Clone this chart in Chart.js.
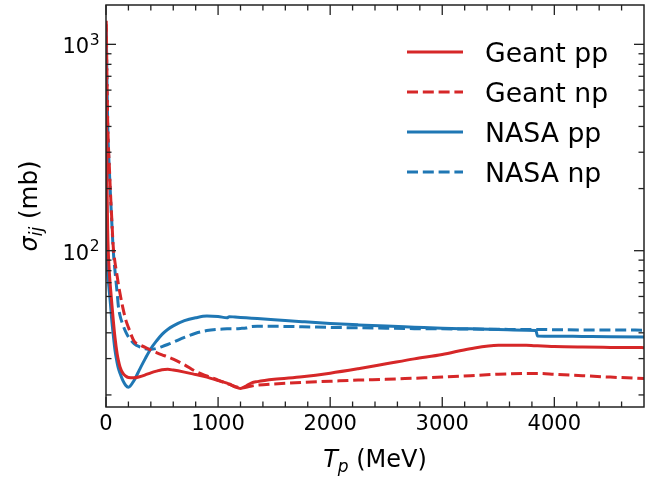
<!DOCTYPE html>
<html>
<head>
<meta charset="utf-8">
<script src="https://cdn.jsdelivr.net/npm/chart.js@4/dist/chart.umd.min.js"></script>
<style>
  html, body { margin: 0; padding: 0; background: #fff; }
  #wrap { width: 662px; height: 480px; }
</style>
</head>
<body>
<div id="wrap"><canvas id="chart1" width="662" height="480"></canvas></div>
<script>
// Data (T_p in MeV, cross sections in mb)
const energies = [2, 5, 10, 15, 20, 30, 40, 50, 65, 80, 100, 110, 125, 150, 175, 200, 250, 300, 350, 400, 450,
  500, 550, 600, 700, 800, 900, 1000, 1080, 1100, 1150, 1200, 1250, 1300, 1350, 1500, 1750, 2000, 2250,
  2500, 2750, 3000, 3250, 3500, 3750, 3835, 3850, 4000, 4250, 4500, 4800]

const geantPP = [1250, 450, 190, 125, 100, 78, 66, 57, 46, 38, 31.5, 29.5, 27.3, 25.5, 24.7, 24.3, 24.2, 24.5, 25.0, 25.6, 26.1,
  26.5, 26.6, 26.4, 25.8, 25.1, 24.4, 23.5, 22.8, 22.6, 21.9, 21.5, 22.1, 22.9, 23.2, 23.8, 24.5, 25.5, 26.8,
  28.3, 29.9, 31.4, 33.5, 34.8, 34.8, 34.6, 34.6, 34.3, 34.1, 34.0, 33.9]

const geantNP = [1300, 1000, 620, 430, 340, 255, 190, 148, 104, 88, 75, 69, 62, 53, 46.5, 42.5, 36.5, 35.0, 34.0, 33.0, 32.1,
  31.3, 30.6, 29.8, 28.0, 26.0, 24.7, 23.6, 22.7, 22.5, 22.0, 21.6, 21.8, 22.1, 22.3, 22.6, 23.0, 23.3, 23.6,
  23.8, 24.1, 24.4, 24.8, 25.2, 25.4, 25.4, 25.4, 25.2, 24.8, 24.4, 24.0]

const nasaPP = [1100, 140, 88, 78, 72, 63, 55, 47, 39, 33, 28.5, 27.0, 25.5, 23.5, 22.3, 21.8, 23.5, 26.6, 30.0, 33.5, 36.5,
  39.3, 41.5, 43.2, 45.8, 47.3, 48.2, 48.0, 47.3, 47.9, 47.7, 47.5, 47.3, 47.1, 46.9, 46.3, 45.3, 44.4, 43.7,
  43.1, 42.6, 42.1, 41.8, 41.5, 41.2, 41.1, 38.6, 38.5, 38.4, 38.3, 38.2]

const nasaNP = [1200, 950, 600, 420, 330, 245, 185, 143, 100, 80, 62, 54, 48.5, 43.8, 40.5, 38.2, 35.5, 34.2, 33.5, 33.3, 33.6,
  34.3, 35.1, 36.0, 38.0, 39.8, 41.0, 41.6, 41.8, 41.9, 41.9, 42.0, 42.2, 42.9, 43.0, 43.0, 42.8, 42.5, 42.3,
  42.1, 41.9, 41.8, 41.7, 41.6, 41.5, 41.5, 41.5, 41.4, 41.3, 41.3, 41.2]

const seriesNames = ['Geant pp', 'Geant np', 'NASA pp', 'NASA np']

// ticks
const xMajorTicks = [0, 1000, 2000, 3000, 4000]
const xMinorTicks = [200, 400, 600, 800, 1200, 1400, 1600, 1800, 2200, 2400, 2600, 2800,
  3200, 3400, 3600, 3800, 4200, 4400, 4600]
const yMajorTicks = [100, 1000]
const yTickExponents = ['2', '3']
const yMinorTicks = [20, 30, 40, 50, 60, 70, 80, 90, 200, 300, 400, 500, 600, 700, 800, 900]

const RED = '#d62728'
const BLUE = '#1f77b4'
const FONT = "'DejaVu Sans', sans-serif"

const zip = (a, b) => a.map((k, i) => ({x: k, y: b[i]}))

const line_style = (label, values, color, dashed) => ({
    label: label,
    data: zip(energies, values),
    borderColor: color,
    borderWidth: 3,
    borderDash: dashed ? [11, 4.8] : [],
    pointRadius: 0,
    fill: false,
    cubicInterpolationMode: 'monotone'
})

// frame + inward ticks on all four sides, y labels as 10^n
const frame_ticks = {
    id: 'frame_ticks',
    afterDatasetsDraw(chart) {
        const {ctx, chartArea: a, scales: {x, y}} = chart
        ctx.save()
        ctx.strokeStyle = '#222'
        ctx.lineWidth = 1.3
        const tick = (x0, y0, x1, y1) => { ctx.beginPath(); ctx.moveTo(x0, y0); ctx.lineTo(x1, y1); ctx.stroke() }
        xMajorTicks.forEach(v => { const p = x.getPixelForValue(v); tick(p, a.bottom, p, a.bottom - 10); tick(p, a.top, p, a.top + 10) })
        xMinorTicks.forEach(v => { const p = x.getPixelForValue(v); tick(p, a.bottom, p, a.bottom - 5.5); tick(p, a.top, p, a.top + 5.5) })
        yMajorTicks.forEach(v => { const p = y.getPixelForValue(v); tick(a.left, p, a.left + 10, p); tick(a.right, p, a.right - 10, p) })
        yMinorTicks.forEach(v => { const p = y.getPixelForValue(v); tick(a.left, p, a.left + 5.5, p); tick(a.right, p, a.right - 5.5, p) })
        ctx.lineWidth = 1.5
        ctx.strokeRect(a.left, a.top, a.right - a.left, a.bottom - a.top)

        // y tick labels
        ctx.fillStyle = '#000'
        ctx.textBaseline = 'alphabetic'
        yMajorTicks.forEach((v, i) => {
            const p = y.getPixelForValue(v)
            ctx.font = '15.5px ' + FONT
            const we = ctx.measureText(yTickExponents[i]).width
            ctx.textAlign = 'right'
            ctx.fillText(yTickExponents[i], a.left - 6.5, p + 0.7)
            ctx.font = '21px ' + FONT
            ctx.fillText('10', a.left - 7 - we, p + 9)
        })
        ctx.restore()
    }
}

// axis titles with italic symbols and subscripts
const axis_titles = {
    id: 'axis_titles',
    afterDraw(chart) {
        const {ctx, chartArea: a} = chart
        const parts_x = [['T', 'italic 24px ' + FONT, 0], ['p', 'italic 17px ' + FONT, 5], [' (MeV)', '24px ' + FONT, 0]]
        const parts_y = [['σ', 'italic 24px ' + FONT, 0], ['ij', 'italic 17px ' + FONT, 5], [' (mb)', '24.5px ' + FONT, 0]]
        const draw_parts = (parts, cx, base) => {
            let w = 0
            parts.forEach(p => { ctx.font = p[1]; w += ctx.measureText(p[0]).width })
            let cur = cx - w / 2
            parts.forEach(p => {
                ctx.font = p[1]
                ctx.fillText(p[0], cur, base + p[2])
                cur += ctx.measureText(p[0]).width
            })
        }
        ctx.save()
        ctx.fillStyle = '#000'
        ctx.textBaseline = 'alphabetic'
        draw_parts(parts_x, (a.left + a.right) / 2, 467)
        ctx.translate(37, (a.top + a.bottom) / 2)
        ctx.rotate(-Math.PI / 2)
        draw_parts(parts_y, 0, 0)
        ctx.restore()
    }
}

// legend in upper right corner, no frame
const corner_legend = {
    id: 'corner_legend',
    afterDraw(chart) {
        const {ctx, chartArea: a} = chart
        ctx.save()
        chart.data.datasets.forEach((ds, i) => {
            const yy = a.top + 47 + i * 40
            const x0 = a.right - 237
            ctx.strokeStyle = ds.borderColor
            ctx.lineWidth = ds.borderWidth
            ctx.setLineDash(ds.borderDash)
            ctx.beginPath(); ctx.moveTo(x0, yy); ctx.lineTo(x0 + 56, yy); ctx.stroke()
            ctx.setLineDash([])
            ctx.fillStyle = '#000'
            ctx.font = '26.7px ' + FONT
            ctx.textBaseline = 'alphabetic'
            ctx.fillText(ds.label, x0 + 78, yy + 9.7)
        })
        ctx.restore()
    }
}

const config = {
    type: 'line',
    data: {
        datasets: [
            line_style(seriesNames[0], geantPP, RED, false),
            line_style(seriesNames[1], geantNP, RED, true),
            line_style(seriesNames[2], nasaPP, BLUE, false),
            line_style(seriesNames[3], nasaNP, BLUE, true)
        ]
    },
    options: {
        responsive: false,
        animation: false,
        layout: { padding: { left: 0, right: 18, top: 5, bottom: 0 } },
        plugins: { legend: { display: false }, tooltip: { enabled: false } },
        scales: {
            x: {
                type: 'linear',
                min: 0,
                max: 4800,
                grid: { display: false, drawTicks: false },
                border: { display: false },
                afterBuildTicks: s => { s.ticks = xMajorTicks.map(v => ({value: v})) },
                afterFit: s => { s.height = 73; s.paddingLeft = 0; s.paddingRight = 0 },
                ticks: {
                    font: { family: FONT, size: 21 },
                    color: '#000',
                    padding: 5,
                    maxRotation: 0,
                    callback: v => String(v)
                }
            },
            y: {
                type: 'logarithmic',
                min: 17.48,
                max: 1551,
                grid: { display: false, drawTicks: false },
                border: { display: false },
                afterBuildTicks: s => { s.ticks = yMajorTicks.map(v => ({value: v})) },
                afterFit: s => { s.width = 106; s.paddingTop = 0; s.paddingBottom = 0 },
                ticks: { display: false }
            }
        }
    },
    plugins: [frame_ticks, axis_titles, corner_legend]
}

const chart1 = new Chart(document.getElementById('chart1'), config)
</script>
</body>
</html>
